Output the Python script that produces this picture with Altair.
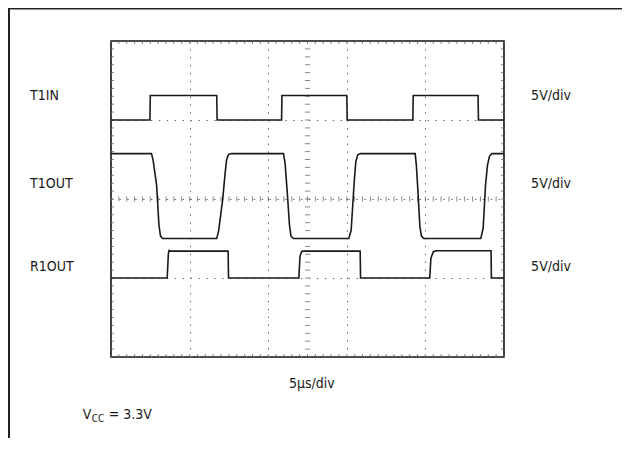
import altair as alt
import pandas as pd

# ---- data (x in divisions of 5 us, y in divisions of 5 V; 10 x 8 graticule) ----
t1in_x = [0, 0.99, 1.0, 2.69, 2.70, 4.34, 4.35, 6.0, 6.01, 7.68, 7.69, 9.34, 9.35, 10]
t1in_y = [6.0, 6.0, 6.62, 6.62, 6.0, 6.0, 6.62, 6.62, 6.0, 6.0, 6.62, 6.62, 6.0, 6.0]

t1out_x = [0, 1.03, 1.07, 1.16, 1.22, 1.26, 1.31,
           2.69, 2.74, 2.84, 2.90, 2.94, 2.99, 3.06,
           4.39, 4.43, 4.49, 4.54, 4.58, 4.64,
           6.05, 6.11, 6.19, 6.23, 6.28, 6.35,
           7.74, 7.77, 7.81, 7.86, 7.90, 7.96,
           9.41, 9.47, 9.53, 9.58, 9.63, 9.69, 10]
t1out_y = [5.15, 5.15, 4.99, 4.35, 3.34, 3.06, 3.0,
           3.0, 3.2, 3.97, 4.61, 4.99, 5.13, 5.15,
           5.15, 4.9, 4.1, 3.35, 3.06, 3.0,
           3.0, 3.2, 4.45, 4.95, 5.12, 5.15,
           5.15, 4.85, 4.2, 3.3, 3.06, 3.0,
           3.0, 3.27, 4.35, 4.86, 5.08, 5.15, 5.15]

r1out_x = [0, 1.43, 1.46, 1.48, 1.52, 2.98, 2.99, 4.78, 4.81, 4.85, 4.9, 6.34, 6.35,
           8.11, 8.14, 8.2, 8.26, 9.67, 9.68, 10]
r1out_y = [2.0, 2.0, 2.62, 2.7, 2.68, 2.68, 2.0, 2.0, 2.55, 2.67, 2.68, 2.68, 2.0,
           2.0, 2.5, 2.66, 2.69, 2.69, 2.0, 2.0]

channel_names = ["T1IN", "T1OUT", "R1OUT"]
channel_label_y = [6.6, 4.38, 2.27]
scale_text = "5V/div"
time_text = "5\u03bcs/div"

X_DIVS = 10
Y_DIVS = 8
MINOR = 5

FONT = "DejaVu Sans Condensed, Liberation Sans, Arial, sans-serif"
INK = "#1a1a1a"
FS = 14

xs = alt.Scale(domain=[0, X_DIVS], nice=False, zero=False)
ys = alt.Scale(domain=[0, Y_DIVS], nice=False, zero=False)

rows = []
for name, xv, yv in [("T1IN", t1in_x, t1in_y), ("T1OUT", t1out_x, t1out_y), ("R1OUT", r1out_x, r1out_y)]:
    for i, (a, b) in enumerate(zip(xv, yv)):
        rows.append({"ch": name, "i": i, "t": a, "v": b})
traces_df = pd.DataFrame(rows)

grid_x = list(range(X_DIVS + 1))
grid_y = list(range(Y_DIVS + 1))

base = alt.Chart(pd.DataFrame({"t": [0], "v": [0]})).mark_point(opacity=0).encode(
    x=alt.X("t:Q", scale=xs, axis=alt.Axis(values=grid_x, grid=True, gridColor="#666",
                                           gridDash=[1.4, 6.46], gridWidth=1, labels=False,
                                           ticks=False, domain=False, title=None)),
    y=alt.Y("v:Q", scale=ys, axis=alt.Axis(values=grid_y, grid=True, gridColor="#666",
                                           gridDash=[1.4, 6.5], gridWidth=1, labels=False,
                                           ticks=False, domain=False, title=None)),
)

# minor ticks along centre lines and edges
mx = [k / MINOR for k in range(X_DIVS * MINOR + 1)]
my = [k / MINOR for k in range(Y_DIVS * MINOR + 1)]
hticks = pd.DataFrame([{"t": a, "v": Y_DIVS / 2} for a in mx])
vticks = pd.DataFrame([{"t": X_DIVS / 2, "v": b} for b in my])
hedge = pd.DataFrame([{"t": a, "v": lvl} for lvl in [0, Y_DIVS] for a in mx])
vedge = pd.DataFrame([{"t": lvl, "v": b} for lvl in [0, X_DIVS] for b in my])

ctr_h = alt.Chart(hticks).mark_tick(orient="vertical", size=5, thickness=1, color="#555").encode(
    x=alt.X("t:Q", scale=xs), y=alt.Y("v:Q", scale=ys))
ctr_v = alt.Chart(vticks).mark_tick(orient="horizontal", size=5, thickness=1, color="#555").encode(
    x=alt.X("t:Q", scale=xs), y=alt.Y("v:Q", scale=ys))
edge_h = alt.Chart(hedge).mark_tick(orient="vertical", size=6, thickness=1, color="#555", clip=True).encode(
    x=alt.X("t:Q", scale=xs), y=alt.Y("v:Q", scale=ys))
edge_v = alt.Chart(vedge).mark_tick(orient="horizontal", size=6, thickness=1, color="#555", clip=True).encode(
    x=alt.X("t:Q", scale=xs), y=alt.Y("v:Q", scale=ys))

traces = alt.Chart(traces_df).mark_line(color=INK, strokeWidth=1.6, interpolate="linear").encode(
    x=alt.X("t:Q", scale=xs), y=alt.Y("v:Q", scale=ys), detail="ch:N", order="i:Q")

left_df = pd.DataFrame({"t": [-2.06] * 3, "v": channel_label_y, "txt": channel_names})
right_df = pd.DataFrame({"t": [10.69] * 3, "v": channel_label_y, "txt": [scale_text] * 3})

left_lbl = alt.Chart(left_df).mark_text(align="left", baseline="middle", font=FONT, fontSize=FS, color=INK).encode(
    x=alt.X("t:Q", scale=xs), y=alt.Y("v:Q", scale=ys), text="txt:N")
right_lbl = alt.Chart(right_df).mark_text(align="left", baseline="middle", font=FONT, fontSize=FS, color=INK).encode(
    x=alt.X("t:Q", scale=xs), y=alt.Y("v:Q", scale=ys), text="txt:N")

time_lbl = alt.Chart(pd.DataFrame({"t": [5.11], "v": [-0.68], "txt": [time_text]})).mark_text(
    align="center", baseline="middle", font=FONT, fontSize=FS, color=INK).encode(
    x=alt.X("t:Q", scale=xs), y=alt.Y("v:Q", scale=ys), text="txt:N")

vcc_main = alt.Chart(pd.DataFrame({"t": [-0.72, -0.06], "v": [-1.47, -1.47], "txt": ["V", "= 3.3V"]})).mark_text(
    align="left", baseline="middle", font=FONT, fontSize=FS, color=INK).encode(
    x=alt.X("t:Q", scale=xs), y=alt.Y("v:Q", scale=ys), text="txt:N")
vcc_sub = alt.Chart(pd.DataFrame({"t": [-0.49], "v": [-1.56], "txt": ["CC"]})).mark_text(
    align="left", baseline="middle", font=FONT, fontSize=10, color=INK).encode(
    x=alt.X("t:Q", scale=xs), y=alt.Y("v:Q", scale=ys), text="txt:N")

frame_top = alt.Chart(pd.DataFrame({"a": [0]})).mark_rule(color="#222", strokeWidth=2).encode(
    x=alt.value(-102), x2=alt.value(530), y=alt.value(-32.4))
frame_left = alt.Chart(pd.DataFrame({"a": [0]})).mark_rule(color="#222", strokeWidth=2).encode(
    x=alt.value(-102), y=alt.value(-33), y2=alt.value(420))

chart = alt.layer(
    base, edge_h, edge_v, ctr_h, ctr_v, traces,
    left_lbl, right_lbl, time_lbl, vcc_main, vcc_sub, frame_top, frame_left,
).properties(
    width=393, height=316,
    autosize=alt.AutoSizeParams(type="none"),
    padding={"left": 103, "top": 33, "right": 118, "bottom": 81},
    background="white",
).configure_view(stroke="#111", strokeWidth=1.6)

chart.save("out.html", embed_options={"renderer": "svg", "actions": False})
